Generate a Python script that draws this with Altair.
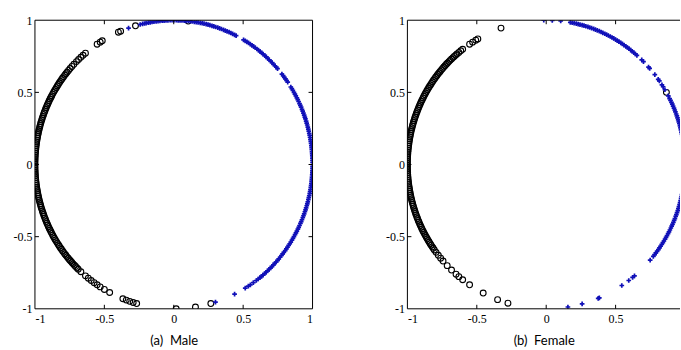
import altair as alt
import numpy as np
import pandas as pd

# ---- data: marker angles (degrees) ----
male_black = [84, 106, 112.5, 113.5, 121, 122, 123.5, 129.5, 130.8, 132, 133.3, 134.5,
              136, 137.2, 138.3, 139.3,
              140.2, 141, 141.7, 142.5, 143.3, 144, 144.8, 145.5, 146.3, 147, 147.8, 148.6,
              149.3, 150, 150.8, 151.6, 152.3, 153, 153.8, 154.5, 155.3, 156, 156.8, 157.5,
              158.3, 159, 159.8, 160.5, 161.3, 162, 162.8, 163.5, 164.3, 165, 165.8, 166.5,
              167.3, 168, 168.8, 169.5, 170.3, 171, 171.8, 172.5, 173.3, 174, 174.8, 175.5,
              176.3, 177, 177.8, 178.5, 179.3, 180, 180.8, 181.5, 182.3, 183, 183.8, 184.5,
              185.3, 186, 186.8, 187.5, 188.3, 189, 189.8, 190.5, 191.3, 192, 192.8, 193.5,
              194.3, 195, 195.8, 196.5, 197.3, 198, 198.8, 199.5, 200.3, 201, 201.8, 202.5,
              203.3, 204, 204.8, 205.5, 206.3, 207, 207.8, 208.5, 209.3, 210, 210.8, 211.5,
              212.3, 213, 213.8, 214.5, 215.3, 216, 216.8, 217.5, 218.3, 219, 219.8, 220.5,
              221.3, 222, 222.8, 223.5, 224.3, 225, 225.8, 226.5,
              228, 230.5, 232, 233.5, 235, 236.5, 238, 240, 242.5,
              248.5, 250, 251.5, 253, 254.5, 271, 279, 285.5]
male_blue = [109, 104, 103, 102.2, 101.5, 100.6, 99.8, 99, 98.2, 97.3, 96.5, 95.7, 94.8, 94,
             93.2, 92.4, 91.5, 90.7, 89.9, 89, 88.2, 87.4, 86.6, 85.7, 84.9, 84, 83.2, 82.4,
             81.5, 80.7, 79.9, 79, 78.2, 77.4, 76.5, 75.7, 74.9, 74, 73.2, 72.4, 71.5, 70.7,
             69.9, 69, 68.2, 67.4, 66.5, 65.7, 64.9, 64, 63.3,
             59.8, 59, 58.2, 57.4, 56.5, 55.7, 54.9, 54, 53.2, 52.4, 51.5, 50.7, 49.9, 49,
             48.2, 47.4, 46.5, 45.7, 44.9, 44, 43.2, 42.4, 41.6,
             38.8, 38, 37.2, 36.4, 35.6, 34.8, 32.5, 31.7, 30.9, 30, 29.2, 28.4, 27.5,
             26.7, 25.9, 25, 24.2, 23.4, 22.5, 21.7, 20.9, 20, 19.2, 18.4, 17.5, 16.7,
             15.9, 15, 14.2, 13.4, 12.5, 11.7, 10.9, 10, 9.2, 8.4, 7.5, 6.7, 5.9, 5, 4.2,
             3.4, 2.5, 1.7, 0.9, 0, 359.2, 358.4, 357.5, 356.7, 355.9, 355, 354.2, 353.4,
             352.5, 351.7, 350.9, 350, 349.2, 348.4, 347.5, 346.7, 345.9, 345, 344.2,
             343.4, 342.5, 341.7, 340.9, 340, 339.2, 338.4, 337.5, 336.7, 335.9, 335,
             334.2, 333.4, 332.5, 331.7, 330.9, 330, 329.2, 328.4, 327.5, 326.7, 325.9,
             325, 324.2, 323.4, 322.5, 321.7, 320.9, 320, 319.2, 318.4, 317.5, 316.7,
             315.9, 315, 314.2, 313.4, 312.5, 311.7, 310.9, 310, 309.2, 308.4,
             307.5, 306.5, 305, 303.5, 302.5, 301, 296, 287.5]

female_black = [30, 109, 119.5, 120.5, 122, 123.5, 127, 128, 129, 130,
                130.7, 131.5, 132.2, 133, 133.8, 134.5, 135.3, 136, 136.8, 137.5, 138.3, 139,
                139.8, 140.5, 141.3, 142, 142.8, 143.5, 144.3, 145, 145.8, 146.5, 147.3, 148,
                148.8, 149.5, 150.3, 151, 151.8, 152.5, 153.3, 154, 154.8, 155.5, 156.3, 157,
                157.8, 158.5, 159.3, 160, 160.8, 161.5, 162.3, 163, 163.8, 164.5, 165.3, 166,
                166.8, 167.5, 168.3, 169, 169.8, 170.5, 171.3, 172, 172.8, 173.5, 174.3, 175,
                175.8, 176.5, 177.3, 178, 178.8, 179.5, 180.3, 181, 181.8, 182.5, 183.3, 184,
                184.8, 185.5, 186.3, 187, 187.8, 188.5, 189.3, 190, 190.8, 191.5, 192.3, 193,
                193.8, 194.5, 195.3, 196, 196.8, 197.5, 198.3, 199, 199.8, 200.5, 201.3, 202,
                202.8, 203.5, 204.3, 205, 205.8, 206.5, 207.3, 208, 208.8, 209.5, 210.3, 211,
                211.8, 212.5, 213.3, 214, 214.8, 215.5, 216.3,
                217.5, 219, 220.5, 222, 224.5, 227, 229.5, 231, 233, 236.5, 243, 249.5, 254]
female_blue = [91, 87.5, 84, 80, 79.2, 78.4, 77.5, 76.7, 75.9, 75, 74.2, 73.4, 72.5, 71.7,
               70.9, 70, 69.2, 68.4, 67.5, 66.7, 65.9, 65, 64.2, 63.4, 62.5, 61.7, 60.9, 60,
               59.2, 58.4, 57.5, 56.7, 55.9, 55, 54.2, 53.4, 52.5, 51.7, 50.9, 50, 49.2,
               46.5, 45.5, 42.5, 41.8, 38.5, 36.2, 35.4, 33.5, 32.6, 31.2, 28.4,
               27.2, 26.4, 25.5, 24.7, 23.9, 23, 22.2, 21.4, 20.5, 19.7, 18.9, 18, 17.2, 16.4,
               15.5, 14.7, 13.9, 13, 12.2, 11.4, 10.5, 9.7, 8.9, 8, 7.2, 6.4, 5.5, 4.7, 3.9,
               3, 2.2, 1.4, 0.5, 359.7, 358.9, 358, 357.2, 356.4, 355.5, 354.7, 353.9, 353,
               352.2, 351.4, 350.5, 349.7, 348.9, 348, 347.2, 346.4, 345.5, 344.7, 343.9,
               343, 342.2, 341.4, 340.5, 339.7, 338.9, 338, 337.2, 336.4, 335.5, 334.7,
               333.9, 333, 332.2, 331.4, 330.5, 329.7, 328.9, 328, 327.2, 326.4, 325.5,
               324.7, 323.9, 323, 322.2, 321.4, 320.5, 318.5,
               309.5, 308.5, 306.5, 303, 292.5, 292, 285, 279]

tick_values = [-1, -0.5, 0, 0.5, 1]
inner_ticks = [-0.5, 0, 0.5]
captions = ["(a)\u00a0 Male", "(b)\u00a0 Female"]

H = 289
LABEL_EXPR = "datum.value == 0 ? '0' : (datum.value < 0 ? '-' : '') + format(abs(datum.value), '')"


def to_xy(angles):
    a = np.deg2rad(np.array(angles, dtype=float))
    return pd.DataFrame({"x": np.cos(a), "y": np.sin(a)})


def panel(black, blue, W, xmax, caption, right_side):
    xs = alt.Scale(domain=[-1, xmax], nice=False, zero=False)
    ys = alt.Scale(domain=[-1, 1], nice=False, zero=False)
    xaxis = alt.Axis(values=[v for v in tick_values if v <= xmax], labelExpr=LABEL_EXPR,
                     title=caption, domain=False, ticks=False, grid=False,
                     labelPadding=5, titlePadding=10, labelAngle=0)
    yaxis = alt.Axis(values=tick_values, labelExpr=LABEL_EXPR, title=None, domain=False,
                     ticks=False, grid=False, labelPadding=3)

    circles = alt.Chart(to_xy(black)).mark_point(
        shape="circle", filled=False, color="black", size=34, strokeWidth=1.1,
        opacity=1, clip=True
    ).encode(x=alt.X("x:Q", scale=xs, axis=xaxis), y=alt.Y("y:Q", scale=ys, axis=yaxis))

    plus = alt.Chart(to_xy(blue)).mark_point(
        shape="M-1,0L1,0M0,-1L0,1", filled=False, color="#1010b8", size=22,
        strokeWidth=1.7, opacity=1, clip=True
    ).encode(x=alt.X("x:Q", scale=xs, axis=xaxis), y=alt.Y("y:Q", scale=ys, axis=yaxis))

    tdf = pd.DataFrame({"v": inner_ticks})
    tick_layers = [
        alt.Chart(tdf).mark_rule(color="black", strokeWidth=1).encode(
            x=alt.X("v:Q", scale=xs, axis=xaxis), y=alt.value(H), y2=alt.value(H - 4)),
        alt.Chart(tdf).mark_rule(color="black", strokeWidth=1).encode(
            x=alt.X("v:Q", scale=xs, axis=xaxis), y=alt.value(0), y2=alt.value(4)),
        alt.Chart(tdf).mark_rule(color="black", strokeWidth=1).encode(
            y=alt.Y("v:Q", scale=ys, axis=yaxis), x=alt.value(0), x2=alt.value(4)),
    ]
    if right_side:
        tick_layers.append(alt.Chart(tdf).mark_rule(color="black", strokeWidth=1).encode(
            y=alt.Y("v:Q", scale=ys, axis=yaxis), x=alt.value(W), x2=alt.value(W - 4)))

    one = alt.Data(values=[{"k": 1}])
    frame = [
        alt.Chart(one).mark_rule(color="black", strokeWidth=1).encode(
            x=alt.value(0), x2=alt.value(W), y=alt.value(0)),
        alt.Chart(one).mark_rule(color="black", strokeWidth=1).encode(
            x=alt.value(0), x2=alt.value(W), y=alt.value(H)),
        alt.Chart(one).mark_rule(color="black", strokeWidth=1).encode(
            x=alt.value(0), y=alt.value(0), y2=alt.value(H)),
    ]
    if right_side:
        frame.append(alt.Chart(one).mark_rule(color="black", strokeWidth=1).encode(
            x=alt.value(W), y=alt.value(0), y2=alt.value(H)))

    return alt.layer(circles, plus, *tick_layers, *frame).properties(width=W, height=H)


left = panel(male_black, male_blue, 278, 1, captions[0], True)
right = panel(female_black, female_blue, 273, 0.964, captions[1], False)

chart = alt.hconcat(left, right, spacing=95, bounds="flush").properties(
    padding={"left": 13, "top": 14, "right": 0, "bottom": 0}
).configure(background="white").configure_view(stroke=None).configure_axis(
    labelFont="Liberation Serif", labelFontSize=12, labelColor="black",
    titleFont="Lato", titleFontSize=13, titleFontWeight="normal", titleColor="black"
)

chart.save("out.html", embed_options={"renderer": "svg", "actions": False})
